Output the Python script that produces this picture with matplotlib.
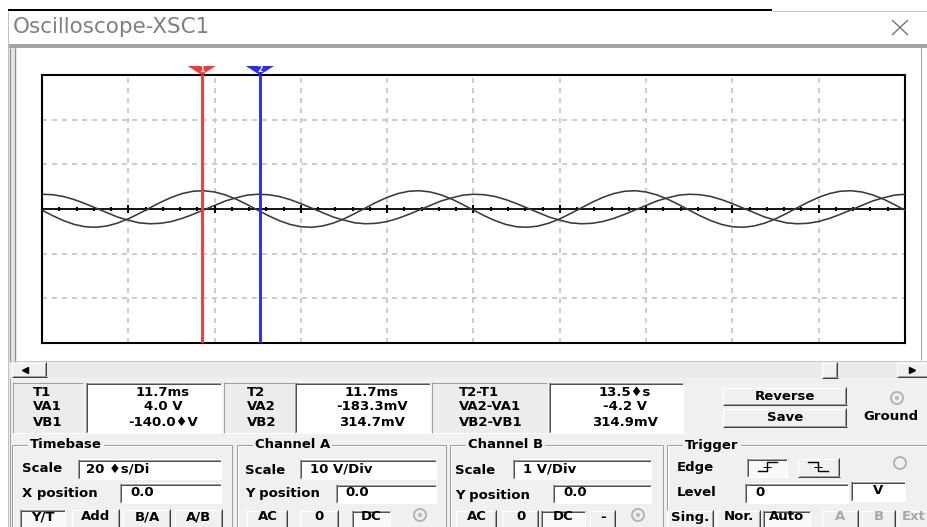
# Capture de l'oscilloscope Multisim (XSC1) refaite avec matplotlib

import numpy as np
import matplotlib.pyplot as plt
from matplotlib.patches import Rectangle, Polygon, Circle

# Données lues sur l'écran (10 divisions de 20 µs, pas de 2,5 µs)
temps_us = [i * 2.5 for i in range(81)]
voie_a_v = [-0.26, -1.51, -2.61, -3.46, -3.97, -4.09, -3.81, -3.16, -2.20, -1.02,
            0.26, 1.51, 2.61, 3.46, 3.97, 4.09, 3.81, 3.16, 2.20, 1.02,
            -0.26, -1.51, -2.61, -3.46, -3.97, -4.09, -3.81, -3.16, -2.20, -1.02,
            0.26, 1.51, 2.61, 3.46, 3.97, 4.09, 3.81, 3.16, 2.20, 1.02,
            -0.26, -1.51, -2.61, -3.46, -3.97, -4.09, -3.81, -3.16, -2.20, -1.02,
            0.26, 1.51, 2.61, 3.46, 3.97, 4.09, 3.81, 3.16, 2.20, 1.02,
            -0.26, -1.51, -2.61, -3.46, -3.97, -4.09, -3.81, -3.16, -2.20, -1.02,
            0.26, 1.51, 2.61, 3.46, 3.97, 4.09, 3.81, 3.16, 2.20, 1.02,
            -0.26]
voie_b_v = [0.33, 0.32, 0.28, 0.21, 0.12, 0.02, -0.08, -0.18, -0.25, -0.31,
            -0.33, -0.32, -0.28, -0.21, -0.12, -0.02, 0.08, 0.18, 0.25, 0.31,
            0.33, 0.32, 0.28, 0.21, 0.12, 0.02, -0.08, -0.18, -0.25, -0.31,
            -0.33, -0.32, -0.28, -0.21, -0.12, -0.02, 0.08, 0.18, 0.25, 0.31,
            0.33, 0.32, 0.28, 0.21, 0.12, 0.02, -0.08, -0.18, -0.25, -0.31,
            -0.33, -0.32, -0.28, -0.21, -0.12, -0.02, 0.08, 0.18, 0.25, 0.31,
            0.33, 0.32, 0.28, 0.21, 0.12, 0.02, -0.08, -0.18, -0.25, -0.31,
            -0.33, -0.32, -0.28, -0.21, -0.12, -0.02, 0.08, 0.18, 0.25, 0.31,
            0.33]
base_temps = 20      # µs/div
echelle_a = 10       # V/div
echelle_b = 1        # V/div
curseurs_us = [37.0, 50.5]

# Textes des afficheurs
lib_t1 = ["T1", "VA1", "VB1"]
val_t1 = ["11.7ms", "4.0 V", "-140.0\u2666V"]
lib_t2 = ["T2", "VA2", "VB2"]
val_t2 = ["11.7ms", "-183.3mV", "314.7mV"]
lib_dt = ["T2-T1", "VA2-VA1", "VB2-VB1"]
val_dt = ["13.5\u2666s", "-4.2 V", "314.9mV"]

W, H = 928, 527
FOND = '#f0f0f0'
TAILLE = 9.5

fig = plt.figure(figsize=(W / 100, H / 100), dpi=100)
fig.patch.set_facecolor('white')
bg = fig.add_axes([0, 0, 1, 1])
bg.set_xlim(0, W)
bg.set_ylim(H, 0)
bg.axis('off')


def ligne(x0, y0, x1, y1, c, px=1, z=3):
    bg.plot([x0, x1], [y0, y1], color=c, lw=px * 0.72, solid_capstyle='butt', zorder=z)


def rect(x0, y0, x1, y1, fc, z=2):
    bg.add_patch(Rectangle((x0, y0), x1 - x0, y1 - y0, facecolor=fc, edgecolor='none', zorder=z))


def texte(x, y, s, ha='left', color='black', size=TAILLE, weight='bold', z=5, **kw):
    bg.text(x, y, s, ha=ha, va='center', fontsize=size, fontweight=weight,
            color=color, family='DejaVu Sans', zorder=z, **kw)


def creux(x0, y0, x1, y1, fc='white'):
    # case de saisie enfoncée
    rect(x0, y0, x1, y1, fc)
    ligne(x0, y0 + 0.5, x1, y0 + 0.5, '#a0a0a0')
    ligne(x0 + 0.5, y0, x0 + 0.5, y1, '#a0a0a0')
    ligne(x0 + 1, y0 + 1.5, x1 - 1, y0 + 1.5, '#505050')
    ligne(x0 + 1.5, y0 + 1, x0 + 1.5, y1 - 1, '#505050')
    ligne(x0, y1 - 0.5, x1, y1 - 0.5, 'white')
    ligne(x1 - 0.5, y0, x1 - 0.5, y1, 'white')


def bouton(x0, y0, x1, y1, txt, enfonce=False, grise=False, ty=None):
    if enfonce:
        creux(x0, y0, x1, y1, fc='#f9f9f9')
    else:
        rect(x0, y0, x1, y1, FOND)
        ligne(x0, y0 + 0.5, x1, y0 + 0.5, 'white')
        ligne(x0 + 0.5, y0, x0 + 0.5, y1, 'white')
        ligne(x0, y1 - 0.5, x1, y1 - 0.5, '#404040')
        ligne(x1 - 0.5, y0, x1 - 0.5, y1, '#404040')
        ligne(x0 + 1, y1 - 1.5, x1 - 1, y1 - 1.5, '#a0a0a0')
        ligne(x1 - 1.5, y0 + 1, x1 - 1.5, y1 - 1, '#a0a0a0')
    if txt:
        if ty is None:
            ty = (y0 + y1) / 2
        texte((x0 + x1) / 2, ty, txt, ha='center',
              color='#a8a8a8' if grise else 'black')


def radio(x, y, point=True):
    bg.add_patch(Circle((x, y), 6, facecolor=FOND, edgecolor='#b4b4b4', lw=1.4, zorder=4))
    if point:
        bg.add_patch(Circle((x, y), 2.2, facecolor='#bdbdbd', edgecolor='none', zorder=5))


def groupe(x0, x1, y, titre):
    ligne(x0, y, x1, y, '#a0a0a0')
    ligne(x0, y + 1, x1, y + 1, 'white')
    ligne(x0, y, x0, H, '#a0a0a0')
    ligne(x0 + 1, y + 1, x0 + 1, H, 'white')
    ligne(x1, y, x1, H, '#a0a0a0')
    texte(x0 + 18, y, titre, bbox=dict(facecolor=FOND, edgecolor='none', pad=1.5))


# Bandeau du haut et barre de titre
ligne(8, 9.5, 772, 9.5, 'black', px=2)
ligne(772, 10.5, W, 10.5, '#c8c8c8')
rect(8, 11, W, 44, 'white')
ligne(8.5, 11, 8.5, H, '#c0c0c0')
bg.text(13, 27, "Oscilloscope-XSC1", ha='left', va='center', fontsize=15.5,
        color='#808080', family='DejaVu Sans', zorder=5)
ligne(892, 20, 908, 35, '#6e6e6e', px=1.3)
ligne(892, 35, 908, 20, '#6e6e6e', px=1.3)
rect(8, 44, W, 47.5, '#a4a4a4')

# Cadre de l'écran
rect(9, 47.5, 17, 378, '#e4e4e4')
ligne(10.5, 47.5, 10.5, 362, '#8a8a8a')
ligne(15.5, 47.5, 15.5, 362, '#8a8a8a')
rect(17, 47.5, 921, 360, 'white')
ligne(921.5, 47.5, 921.5, 360, '#a0a0a0')
ligne(9, 360.5, W, 360.5, '#c8c8c8')

# Barre de défilement
rect(9, 361, W, 378, '#ebebeb')
bouton(12, 362, 47, 377, "")
bg.plot([25], [369.5], marker='<', ms=5, color='black', zorder=6)
bouton(822, 362, 838, 378, "")
bouton(897, 362, W + 2, 377, "")
bg.plot([912], [369.5], marker='>', ms=5, color='black', zorder=6)

# Panneau inférieur
rect(9, 378, W, H, FOND)
ligne(10.5, 378, 10.5, H, '#a0a0a0')

# Afficheurs des curseurs
for (x0, x1, xv0, xv1, xc, xl, libs, vals) in [
        (13, 83, 86, 222, 163, 33, lib_t1, val_t1),
        (224, 294, 295, 431, 372, 247, lib_t2, val_t2),
        (432, 547, 549, 684, 625, 459, lib_dt, val_dt)]:
    rect(x0, 382, x1, 433, '#ececec')
    ligne(x0, 382.5, x1, 382.5, '#a0a0a0')
    ligne(x0 + 0.5, 382, x0 + 0.5, 433, '#a0a0a0')
    ligne(x0, 432.5, x1, 432.5, 'white')
    creux(xv0, 382, xv1, 433)
    for k in range(3):
        texte(xl, 392 + 15 * k, libs[k])
        texte(xc, 392 + 15 * k, vals[k], ha='center')

bouton(723, 387, 847, 405, "Reverse")
bouton(723, 408, 847, 427, "Save")
radio(897, 398)
texte(863, 417, "Ground")

# Base de temps
groupe(12, 232, 445, "Timebase")
texte(22, 469, "Scale")
creux(78, 459, 222, 479)
texte(86, 469, "20 \u2666s/Di")
texte(22, 493, "X position")
creux(120, 483, 222, 503)
texte(130, 493, "0.0")
bouton(20, 509, 66, 528, "Y/T", enfonce=True, ty=517)
bouton(72, 509, 120, 528, "Add", ty=517)
bouton(123, 509, 171, 528, "B/A", ty=517)
bouton(175, 509, 223, 528, "A/B", ty=517)

# Voie A
groupe(237, 446, 445, "Channel A")
texte(245, 471, "Scale")
creux(300, 459, 437, 479)
texte(310, 469, "10 V/Div")
texte(245, 494, "Y position")
creux(336, 484, 437, 503)
texte(345, 493, "0.0")
bouton(247, 510, 288, 528, "AC", ty=517)
bouton(300, 510, 339, 528, "0", ty=517)
bouton(352, 510, 391, 528, "DC", enfonce=True, ty=517)
radio(420, 515)

# Voie B
groupe(450, 663, 445, "Channel B")
texte(455, 471, "Scale")
creux(513, 459, 652, 479)
texte(523, 469, "1 V/Div")
texte(455, 496, "Y position")
creux(553, 484, 652, 503)
texte(563, 493, "0.0")
bouton(456, 510, 497, 528, "AC", ty=517)
bouton(503, 510, 539, 528, "0", ty=517)
bouton(541, 510, 586, 528, "DC", enfonce=True, ty=517)
bouton(590, 510, 616, 528, "-", ty=517)
radio(638, 515)

# Déclenchement
groupe(667, W + 5, 445, "Trigger")
texte(677, 468, "Edge")
bouton(747, 458, 788, 477, "", enfonce=True)
bg.plot([758, 767, 767, 777], [471, 471, 462, 462], color='black', lw=1, zorder=6)
ligne(763, 466.5, 771, 466.5, 'black')
bouton(798, 458, 840, 477, "")
bg.plot([808, 818, 818, 828], [462, 462, 471, 471], color='black', lw=1, zorder=6)
ligne(814, 466.5, 822, 466.5, 'black')
radio(900, 463, point=False)
texte(677, 492, "Level")
creux(745, 483, 849, 503)
texte(755, 492, "0")
creux(851, 481, 906, 501)
texte(878, 490, "V", ha='center')
bouton(667, 510, 714, 528, "Sing.", ty=517)
bouton(716, 510, 761, 528, "Nor.", ty=517)
bouton(763, 510, 811, 528, "Auto", enfonce=True, ty=517)
bouton(822, 510, 859, 528, "A", grise=True, ty=517)
bouton(862, 510, 896, 528, "B", grise=True, ty=517)
bouton(898, 510, W + 2, 528, "Ext", grise=True, ty=517)

# Écran de l'oscilloscope
x0_ecran, x1_ecran, y0_ecran, y1_ecran = 42, 905, 75, 343
ax = fig.add_axes([x0_ecran / W, 1 - y1_ecran / H,
                   (x1_ecran - x0_ecran) / W, (y1_ecran - y0_ecran) / H])
ax.set_facecolor('white')
ax.set_xlim(0, 10 * base_temps)
ax.set_ylim(-3, 3)
ax.set_xticks([])
ax.set_yticks([])
for s in ax.spines.values():
    s.set_linewidth(1.5)
    s.set_color('black')

# Quadrillage en pointillés
for i in range(1, 10):
    ax.axvline(i * base_temps, color='#c4c4c4', lw=1.2, ls=(0, (3, 3)), zorder=1)
for j in [-2, -1, 1, 2]:
    ax.axhline(j, color='#c4c4c4', lw=1.2, ls=(0, (3, 3)), zorder=1)

# Axe central gradué
ax.axhline(0, color='black', lw=1.3, zorder=2)
ax.vlines(np.arange(0, 10 * base_temps + 1, base_temps / 5), -0.035, 0.035,
          color='black', lw=1.5, zorder=2)
ax.vlines(np.arange(0, 10 * base_temps + 1, base_temps), -0.09, 0.09,
          color='black', lw=1.5, zorder=2)

# Traces des deux voies
ax.plot(temps_us, np.array(voie_a_v) / echelle_a, color='#3a3a3a', lw=1.15, zorder=3)
ax.plot(temps_us, np.array(voie_b_v) / echelle_b, color='#3a3a3a', lw=1.15, zorder=3)

# Curseurs
demi = 14 / ((x1_ecran - x0_ecran) / (10 * base_temps))
haut = 9 / (y1_ecran - y0_ecran)
for t, c, num in [(curseurs_us[0], '#ff3535', "1"), (curseurs_us[1], '#2a2aff', "2")]:
    ax.axvline(t, color=c, lw=2.1, zorder=5)
    ax.add_patch(Polygon([(t - demi, 1 + haut), (t + demi, 1 + haut), (t, 1.0)],
                         closed=True, facecolor=c, edgecolor='none',
                         transform=ax.get_xaxis_transform(), clip_on=False, zorder=6))
    ax.text(t, 1 + haut * 0.62, num, ha='center', va='center', fontsize=5.5,
            fontweight='bold', color='white', transform=ax.get_xaxis_transform(),
            clip_on=False, zorder=7)

fig.savefig("out.png", dpi=100)
